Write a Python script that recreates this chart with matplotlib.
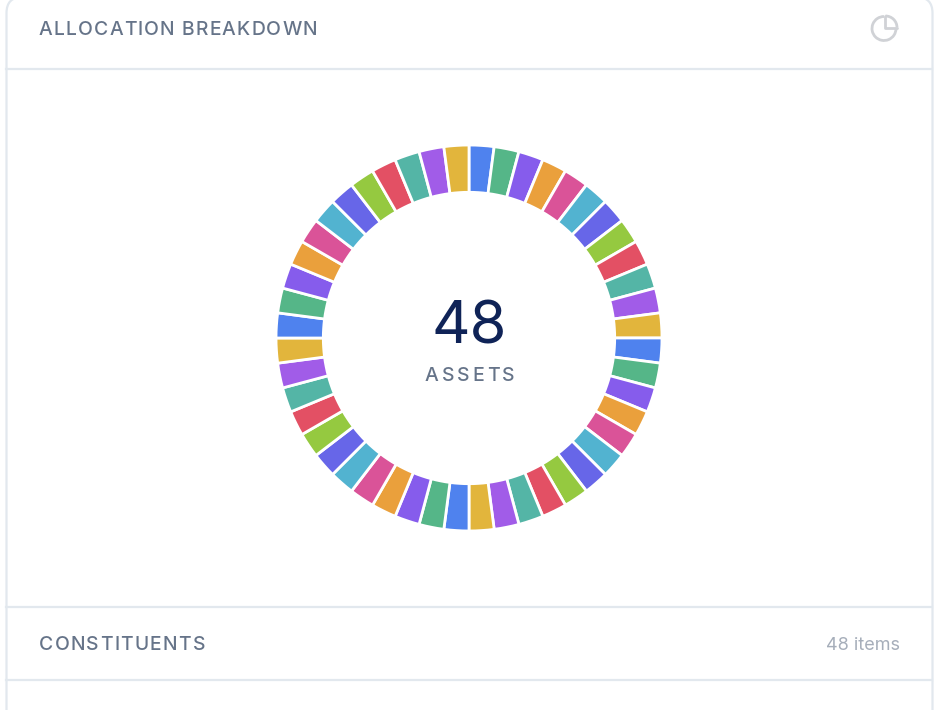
import matplotlib
matplotlib.use("Agg")
import matplotlib.pyplot as plt
from matplotlib.patches import Arc, FancyBboxPatch
from matplotlib.text import Text

plt.rcParams['font.family'] = ['Inter', 'DejaVu Sans']

# every asset has the same share
weights = [1, 1, 1, 1, 1, 1, 1, 1, 1, 1, 1, 1,
           1, 1, 1, 1, 1, 1, 1, 1, 1, 1, 1, 1,
           1, 1, 1, 1, 1, 1, 1, 1, 1, 1, 1, 1,
           1, 1, 1, 1, 1, 1, 1, 1, 1, 1, 1, 1]
palette = ['#4f82ee', '#55b688', '#865cec', '#eaa03c', '#da5398', '#52b3d0',
           '#6766e8', '#95c940', '#e35064', '#54b5a6', '#a15ce8', '#e2b53c']
colors = [palette[i % len(palette)] for i in range(len(weights))]

title = 'ALLOCATION BREAKDOWN'
center_value = '48'
center_label = 'ASSETS'
section = 'CONSTITUENTS'
items = '48 items'

border = '#e2e8ee'
label_col = '#667489'


class TrackedText(Text):
    # matplotlib has no letter spacing, so draw one glyph at a time
    def __init__(self, x, y, text, tracking=0, **kw):
        super().__init__(x, y, text, ha='left', va='baseline', **kw)
        self.tracking = tracking

    def draw(self, renderer):
        full = self.get_text()
        x0 = self.get_position()[0]
        prop = self.get_fontproperties()
        for i, ch in enumerate(full):
            w = renderer.get_text_width_height_descent(full[:i], prop, False)[0] if i else 0
            self.set_text(ch)
            self.set_x(x0 + w + i * self.tracking)
            super().draw(renderer)
        self.set_text(full)
        self.set_x(x0)


fig = plt.figure(figsize=(9.48, 7.10), dpi=100, facecolor='white')

# page layer in pixel coordinates
bg = fig.add_axes([0, 0, 1, 1])
bg.set_xlim(0, 948)
bg.set_ylim(710, 0)
bg.axis('off')

card = FancyBboxPatch((6.5, -3), 926, 800, boxstyle='round,pad=0,rounding_size=16',
                      fc='white', ec=border, lw=1.6)
bg.add_patch(card)
bg.plot([6.5, 932.5], [69, 69], color=border, lw=1.6)
bg.plot([6.5, 932.5], [607, 607], color=border, lw=1.6)
bg.plot([6.5, 932.5], [679.5, 679.5], color=border, lw=1.6)

bg.add_artist(TrackedText(39, 35, title, tracking=1.15, fontsize=13.9, fontweight=500, color=label_col))
bg.add_artist(TrackedText(39, 650, section, tracking=1.3, fontsize=13.9, fontweight=500, color=label_col))
bg.text(900, 650, items, fontsize=13, color='#a6aeba', va='baseline', ha='right')

# pie icon, top right
icon = '#d0d2d6'
bg.add_patch(Arc((884, 28.5), 24, 24, theta1=0, theta2=270, color=icon, lw=2))
bg.plot([885.5, 885.5, 897], [16, 27.5, 27.5], color=icon, lw=2, solid_capstyle='round')
bg.add_patch(Arc((885.5, 27.5), 23, 23, theta1=270, theta2=360, color=icon, lw=2))

# donut, 384 px across, centred on (469, 338)
ax = fig.add_axes([277 / 948, (710 - 530) / 710, 384 / 948, 384 / 710])
ax.pie(weights, colors=colors, startangle=90, counterclock=False, radius=1,
       wedgeprops={'width': 0.245, 'edgecolor': 'white', 'linewidth': 2})
ax.set_xlim(-0.995, 0.995)
ax.set_ylim(-0.995, 0.995)

bg.text(469.5, 343, center_value, fontsize=43, color='#0f2357', ha='center', va='baseline')
bg.add_artist(TrackedText(425, 381, center_label, tracking=2.8, fontsize=14, fontweight=500, color=label_col))

fig.savefig('out.png', dpi=100)
